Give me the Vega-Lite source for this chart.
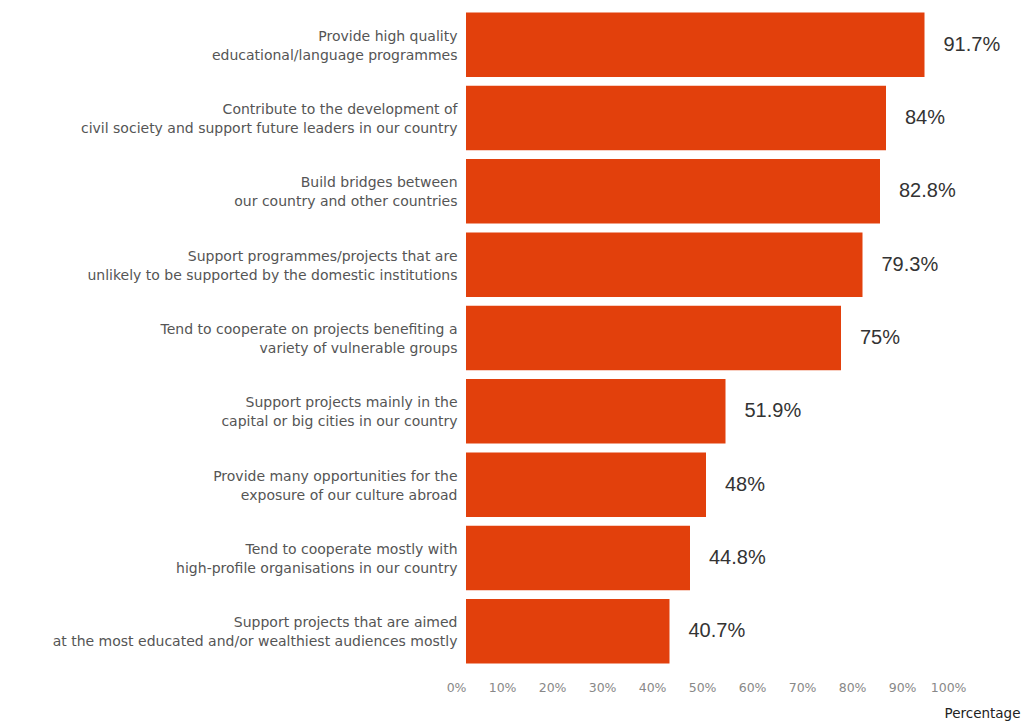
{
  "$schema": "https://vega.github.io/schema/vega-lite/v6.json",
  "autosize": {"type": "none"},
  "width": 500,
  "height": 660,
  "padding": {"left": 466, "top": 8, "right": 56, "bottom": 53},
  "background": "white",
  "config": {"view": {"stroke": null}},
  "data": {
    "values": [
      {"label": "Provide high quality|educational/language programmes", "value": 0.917},
      {"label": "Contribute to the development of|civil society and support future leaders in our country", "value": 0.84},
      {"label": "Build bridges between|our country and other countries", "value": 0.828},
      {"label": "Support programmes/projects that are|unlikely to be supported by the domestic institutions", "value": 0.793},
      {"label": "Tend to cooperate on projects benefiting a|variety of vulnerable groups", "value": 0.75},
      {"label": "Support projects mainly in the|capital or big cities in our country", "value": 0.519},
      {"label": "Provide many opportunities for the|exposure of our culture abroad", "value": 0.48},
      {"label": "Tend to cooperate mostly with|high-profile organisations in our country", "value": 0.448},
      {"label": "Support projects that are aimed|at the most educated and/or wealthiest audiences mostly", "value": 0.407}
    ]
  },
  "encoding": {
    "y": {
      "field": "label",
      "type": "nominal",
      "sort": null,
      "scale": {"paddingInner": 0.12, "paddingOuter": 0.06},
      "axis": {
        "title": null,
        "domain": false,
        "ticks": false,
        "labelExpr": "split(datum.value, '|')",
        "labelFont": "DejaVu Sans",
        "labelFontSize": 14,
        "labelColor": "#555555",
        "labelLineHeight": 19,
        "labelOffset": -8,
        "labelPadding": 9,
        "labelLimit": 500
      }
    },
    "x": {
      "field": "value",
      "type": "quantitative",
      "scale": {"domain": [0, 1], "nice": false},
      "axis": {
        "format": ".0%",
        "values": [0, 0.1, 0.2, 0.3, 0.4, 0.5, 0.6, 0.7, 0.8, 0.9, 1],
        "grid": false,
        "domain": false,
        "ticks": false,
        "labelAlign": "right",
        "labelFont": "DejaVu Sans",
        "labelFontSize": 12.5,
        "labelColor": "#888888",
        "labelPadding": 13,
        "title": "Percentage",
        "titleFont": "DejaVu Sans",
        "titleFontSize": 13.5,
        "titleFontWeight": "normal",
        "titleColor": "#222222",
        "titleAnchor": "end",
        "titleAlign": "right",
        "titleBaseline": "alphabetic",
        "titleX": 554,
        "titleY": 49
      }
    }
  },
  "layer": [
    {"mark": {"type": "bar", "color": "#E2400C"}},
    {
      "mark": {"type": "text", "align": "left", "baseline": "middle", "dx": 19, "font": "Liberation Sans", "fontSize": 20, "color": "#333333"},
      "encoding": {"text": {"field": "value", "type": "quantitative", "format": ".3~%"}}
    }
  ]
}
